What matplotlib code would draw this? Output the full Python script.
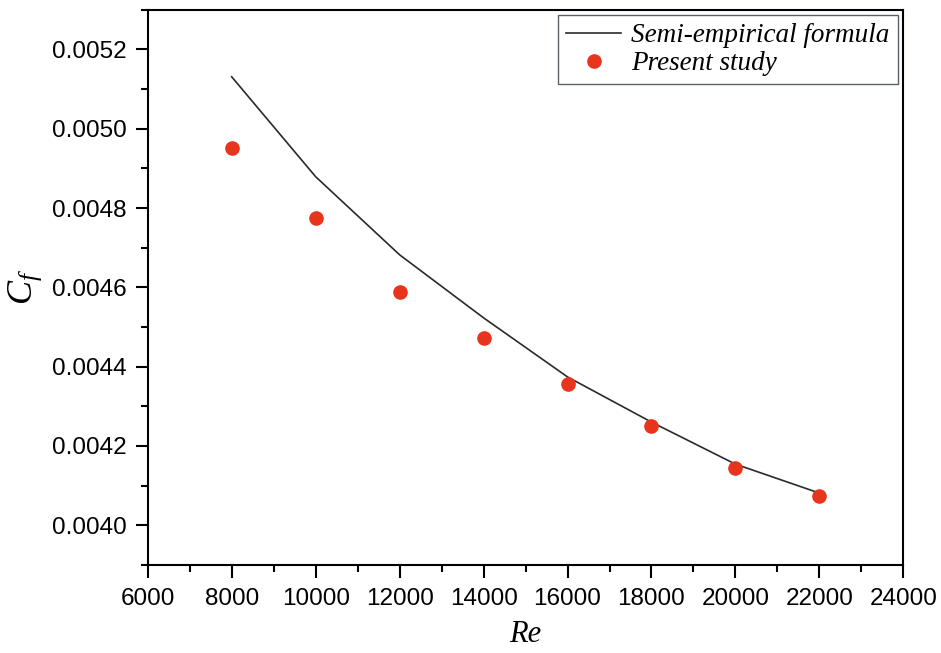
import matplotlib
matplotlib.use('Agg')
from matplotlib import pyplot as plt
from matplotlib.ticker import MultipleLocator

# semi-empirical curve and simulation results
re_line = [8000, 10000, 12000, 14000, 16000, 18000, 20000, 22000]
cf_line = [0.005131, 0.004879, 0.004682, 0.004523, 0.004374, 0.004260, 0.004154, 0.004081]
re_pts = [8000, 10000, 12000, 14000, 16000, 18000, 20000, 22000]
cf_pts = [0.004952, 0.004775, 0.004588, 0.004472, 0.004356, 0.004250, 0.004144, 0.004073]

plt.rcParams['font.family'] = ['Liberation Sans', 'DejaVu Sans']
plt.rcParams['mathtext.fontset'] = 'custom'
plt.rcParams['mathtext.it'] = 'Liberation Serif:italic'
plt.rcParams['mathtext.rm'] = 'Liberation Serif'

fig = plt.figure(figsize=(9.41, 6.53), dpi=100)
ax = fig.add_axes([0.157, 0.135, 0.803, 0.850])

ax.plot(re_line, cf_line, color='#2a2a2a', lw=1.2, label='Semi-empirical formula')
ax.plot(re_pts, cf_pts, 'o', color='#e8341c', ms=9.5, label='Present study')

ax.set_xlim(6000, 24000)
ax.set_ylim(0.0039, 0.0053)
ax.xaxis.set_major_locator(MultipleLocator(2000))
ax.xaxis.set_minor_locator(MultipleLocator(1000))
ax.yaxis.set_major_locator(MultipleLocator(0.0002))
ax.yaxis.set_minor_locator(MultipleLocator(0.0001))
ax.yaxis.set_major_formatter(plt.FormatStrFormatter('%.4f'))

ax.tick_params(which='major', direction='out', length=9, width=1.5, labelsize=17.5)
ax.tick_params(axis='x', which='major', pad=8)
ax.tick_params(axis='y', which='major', pad=6)
ax.tick_params(which='minor', direction='out', length=5, width=1.5)
for s in ax.spines.values():
    s.set_linewidth(1.5)

ax.set_xlabel('Re', fontsize=22, family='Liberation Serif', style='italic', labelpad=7)
ax.set_ylabel('$C_f$', fontsize=26, labelpad=6)

leg = ax.legend(loc='upper right', prop={'family': 'Liberation Serif', 'style': 'italic', 'size': 19.5},
                frameon=True, fancybox=False, borderaxespad=0.2, handlelength=2.0,
                handletextpad=0.4, labelspacing=0.1, borderpad=0.3)
leg.get_frame().set_edgecolor('#2f3a40')
leg.get_frame().set_linewidth(1.0)

fig.savefig('out.png', dpi=100)
